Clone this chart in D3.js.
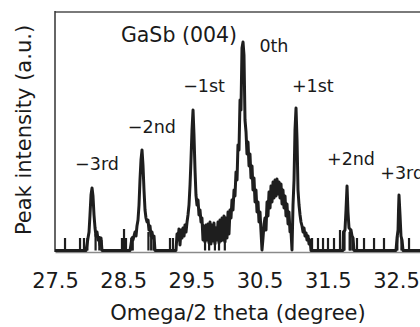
<!DOCTYPE html>
<html>
<head>
<meta charset="utf-8">
<script src="https://cdn.jsdelivr.net/npm/d3@7"></script>
<style>
  html, body { margin: 0; padding: 0; background: #fff; }
  svg text { font-family: "DejaVu Sans", Verdana, sans-serif; fill: #1a1a1a; }
</style>
</head>
<body>
<svg id="chart" width="420" height="327"></svg>
<script>
// x axis ticks (degree)
const xTicks = [27.5, 28.5, 29.5, 30.5, 31.5, 32.5];

// omega/2theta scan, [theta, intensity a.u.]
const scan = [
  [27.500,1.5],[27.955,1.5],
  // -3rd
  [27.984,14],[27.999,20],[28.013,37],[28.028,57],[28.043,64],[28.057,56],[28.072,37],[28.087,24],
  [28.101,16],[28.116,20],[28.131,12],[28.145,14],[28.160,7],[28.175,14],[28.189,1.5],
  [28.600,1.5],
  // -2nd
  [28.629,14],[28.644,12],[28.658,16],[28.673,20],[28.688,16],[28.702,26],[28.717,32],[28.732,47],
  [28.746,72],[28.761,92],[28.776,102],[28.790,87],[28.805,62],[28.820,42],[28.834,34],[28.849,30],
  [28.864,32],[28.878,22],[28.893,26],[28.908,16],[28.922,20],[28.937,14],[28.952,16],[28.966,1.5],
  [29.274,1.5],
  // -1st
  [29.289,18],[29.304,12],[29.318,23],[29.333,7],[29.348,22],[29.362,14],[29.377,24],[29.392,16],
  [29.406,27],[29.421,20],[29.436,30],[29.450,37],[29.465,47],[29.480,67],[29.494,92],[29.509,122],
  [29.524,142],[29.538,117],[29.553,82],[29.567,57],[29.582,47],[29.597,52],[29.611,37],[29.626,42],
  [29.641,30],[29.655,34],[29.670,12],[29.685,26],[29.699,10],[29.714,27],[29.729,12],[29.743,28],
  [29.758,9],[29.773,30],[29.787,8],[29.802,27],[29.817,11],[29.831,29],[29.846,8],[29.861,24],
  [29.875,12],[29.890,30],[29.905,9],[29.919,32],[29.934,11],[29.949,34],[29.963,12],[29.978,36],
  [29.993,10],[30.007,34],[30.022,14],[30.037,40],[30.051,18],[30.066,42],[30.081,34],[30.095,52],
  // 0th
  [30.110,42],[30.125,62],[30.139,56],[30.154,80],[30.169,72],[30.183,107],[30.198,102],[30.213,152],
  [30.227,142],[30.242,204],[30.257,210],[30.271,197],[30.286,132],[30.301,120],[30.315,98],[30.330,110],
  [30.345,86],[30.359,98],[30.374,74],[30.389,86],[30.403,62],[30.418,74],[30.433,50],[30.447,62],
  [30.462,40],[30.477,50],[30.491,30],[30.506,40],[30.521,20],[30.535,2],
  // layer hump
  [30.550,14],[30.565,28],[30.579,34],[30.594,22],[30.609,50],[30.623,36],[30.638,60],[30.653,44],
  [30.667,66],[30.682,50],[30.697,70],[30.711,54],[30.726,72],[30.741,56],[30.755,73],[30.770,58],
  [30.785,70],[30.799,54],[30.814,68],[30.829,48],[30.843,62],[30.858,44],[30.873,56],[30.887,36],
  [30.902,48],[30.917,28],[30.931,40],[30.946,20],[30.961,20],[30.975,2],
  // +1st
  [30.990,47],[31.005,72],[31.019,122],[31.034,144],[31.049,112],[31.063,62],[31.078,47],[31.093,37],
  [31.107,30],[31.122,26],[31.137,20],[31.151,24],[31.166,16],[31.181,19],[31.195,12],[31.210,16],
  [31.225,8],[31.240,12],[31.254,1.5],
  [31.723,1.5],
  // +2nd
  [31.730,20],[31.752,22],[31.767,42],[31.782,66],[31.796,40],[31.811,24],[31.840,22],[31.855,16],
  [31.870,14],[31.884,1.5],
  [32.500,1.5],
  // +3rd
  [32.515,14],[32.530,22],[32.537,42],[32.544,57],[32.559,37],[32.573,16],[32.588,12],[32.603,1.5],
  [33.000,1.5]
];

// isolated noise spikes
const spikeTheta = [27.647, 27.867, 27.925, 27.975, 28.095, 28.150, 28.180,
  28.482, 28.512, 28.541, 28.620, 28.640, 28.870, 28.910, 28.945,
  29.186, 29.230, 29.700, 29.760, 29.845, 29.905, 29.990,
  31.269, 31.356, 31.430, 31.503, 31.591, 31.679,
  31.735, 31.745, 31.820, 31.830, 31.860, 31.928, 32.031, 32.178, 32.324,
  32.520, 32.580, 32.691];
const spikeI = [14, 14, 14, 14, 18, 16, 12,
  14, 23, 14, 14, 16, 20, 16, 14,
  14, 14, 22, 24, 22, 26, 24,
  14, 14, 14, 14, 14, 22,
  18, 22, 20, 22, 14, 14, 14, 14, 14,
  16, 14, 14];

// satellite labels, anchored in data units
const labelText = ["GaSb (004)", "0th", "\u22121st", "+1st", "\u22122nd", "\u22123rd", "+2nd", "+3rd"];
const labelTheta = [29.318, 30.71, 29.685, 31.28, 28.92, 28.116, 31.84, 32.59];
const labelI = [210, 200, 160, 160, 119, 82, 87, 73];

const margin = {left: 55, top: 12, bottom: 75};
const width = 420, height = 327;
const pxPerDeg = 68.2;

const svg = d3.select("#chart");
const x = d3.scaleLinear().domain([27.5, 33]).range([margin.left, margin.left + 5.5 * pxPerDeg]);
const y = d3.scaleLinear().domain([0, 240]).range([height - margin.bottom, margin.top]);

// bottom axis
const xAxis = d3.axisBottom(x).tickValues(xTicks).tickSize(0).tickPadding(21).tickFormat(d3.format(".1f"));
const gx = svg.append("g")
    .attr("transform", `translate(0,${y(0)})`)
    .call(xAxis);
gx.select(".domain").attr("stroke", "#8a8a8a").attr("stroke-width", 1.5);
gx.selectAll("text").style("font-size", "21px").style("fill", "#1a1a1a");

// frame
svg.append("line")
    .attr("x1", margin.left).attr("x2", width)
    .attr("y1", margin.top).attr("y2", margin.top)
    .attr("stroke", "#7a7a7a").attr("stroke-width", 2);
svg.append("line")
    .attr("x1", margin.left).attr("x2", margin.left)
    .attr("y1", margin.top - 1).attr("y2", y(0))
    .attr("stroke", "#333").attr("stroke-width", 1.5);

// data
const plot = svg.append("g");
plot.selectAll("line.spike")
    .data(spikeTheta)
    .join("line")
    .attr("class", "spike")
    .attr("x1", d => x(d)).attr("x2", d => x(d))
    .attr("y1", y(1.5)).attr("y2", (d, i) => y(spikeI[i]))
    .attr("stroke", "#1e1e1e").attr("stroke-width", 2.2);

const line = d3.line().x(d => x(d[0])).y(d => y(d[1]));
plot.append("path")
    .datum(scan)
    .attr("d", line)
    .attr("fill", "none")
    .attr("stroke", "#1e1e1e")
    .attr("stroke-width", 3)
    .attr("stroke-linejoin", "round");

// labels
svg.selectAll("text.lab")
    .data(labelText)
    .join("text")
    .attr("class", "lab")
    .attr("x", (d, i) => x(labelTheta[i]))
    .attr("y", (d, i) => y(labelI[i]))
    .attr("text-anchor", "middle")
    .style("font-size", (d, i) => i === 0 ? "20.5px" : "17.5px")
    .text(d => d);

// axis titles
svg.append("text")
    .attr("x", 238).attr("y", 320)
    .attr("text-anchor", "middle")
    .style("font-size", "21px")
    .text("Omega/2 theta (degree)");
svg.append("text")
    .attr("transform", "translate(31,130) rotate(-90)")
    .attr("text-anchor", "middle")
    .style("font-size", "21px")
    .text("Peak intensity (a.u.)");
</script>
</body>
</html>
